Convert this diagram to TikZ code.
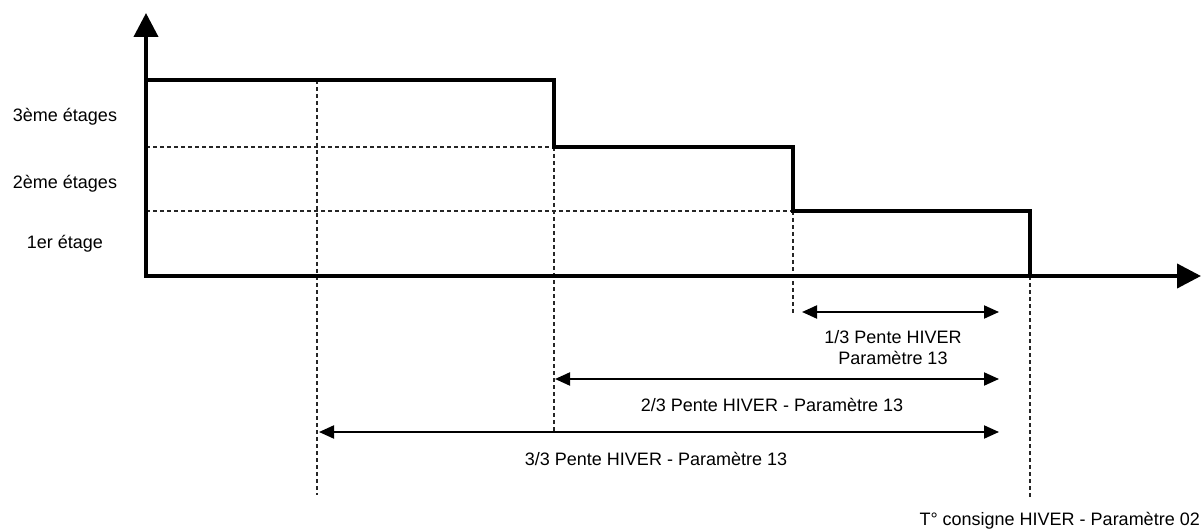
\documentclass[tikz,border=0pt]{standalone}
\usepackage{fontspec}
\setmainfont{Liberation Sans}
\usetikzlibrary{arrows.meta}
\begin{document}
\begin{tikzpicture}[x=1pt,y=-1pt,
  axis/.style={line width=4pt,-{Triangle[length=24pt,width=24pt]}},
  stair/.style={line width=4pt,line join=miter},
  guide/.style={line width=2pt,draw=black!85,dash pattern=on 4pt off 3pt},
  dim/.style={line width=2pt,{Triangle[length=15pt,width=13pt]}-{Triangle[length=15pt,width=13pt]}},
  lbl/.style={font=\fontsize{18}{20}\selectfont,inner sep=0pt,anchor=base}]
\useasboundingbox (0,0) rectangle (1201,529);
% key points
\coordinate (O) at (146,276);
\coordinate (Ytip) at (146,13);
\coordinate (Xtip) at (1201,276);
\coordinate (s0) at (146,80);
\coordinate (s1) at (554,80);
\coordinate (s2) at (554,147);
\coordinate (s3) at (793,147);
\coordinate (s4) at (793,211);
\coordinate (s5) at (1030,211);
\coordinate (s6) at (1030,276);
\coordinate (h2) at (146,147);
\coordinate (h1) at (146,211);
% guides
\draw[guide] (h2) -- (s2);
\draw[guide] (h1) -- (s4);
\draw[guide] (317,80) coordinate (v1a) -- (317,495) coordinate (v1b);
\draw[guide] (s2) -- (554,432) coordinate (v2b);
\draw[guide] (s4) -- (793,314) coordinate (v3b);
\draw[guide] (s6) -- (1030,497) coordinate (v4b);
% axes
\draw[axis] (O) -- (Ytip);
\draw[axis] ([xshift=-2pt]O) -- (Xtip);
% staircase
\draw[stair] (s0) -- (s1) -- (s2) -- (s3) -- (s4) -- (s5) -- (s6);
% dimension arrows
\coordinate (d1a) at (802,312); \coordinate (d1b) at (999,312);
\coordinate (d2a) at (555,379); \coordinate (d2b) at (999,379);
\coordinate (d3a) at (319,432); \coordinate (d3b) at (999,432);
\draw[dim] (d1a) -- (d1b);
\draw[dim] (d2a) -- (d2b);
\draw[dim] (d3a) -- (d3b);
% labels
\node[lbl] (l3) at (65,122) {3ème étages};
\node[lbl] (l2) at (65,189) {2ème étages};
\node[lbl] (l1) at (65,248) {1er étage};
\node[lbl] (t1a) at (893,343) {1/3 Pente HIVER};
\node[lbl] (t1b) at (893,364) {Paramètre 13};
\node[lbl] (t2) at (772,411) {2/3 Pente HIVER - Paramètre 13};
\node[lbl] (t3) at (656,465) {3/3 Pente HIVER - Paramètre 13};
\node[lbl,anchor=base east] (t4) at (1200,525) {T° consigne HIVER - Paramètre 02};
\end{tikzpicture}
\end{document}
